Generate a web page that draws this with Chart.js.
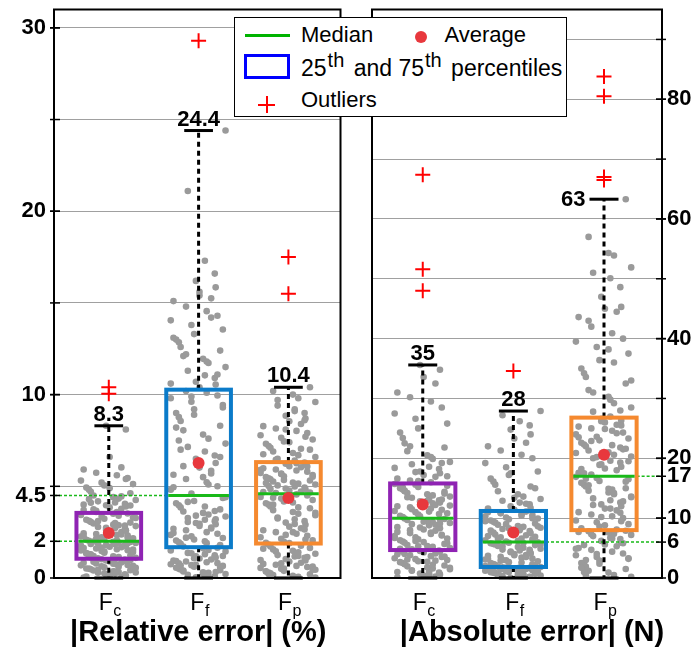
<!DOCTYPE html>
<html>
<head>
<meta charset="utf-8">
<title>Relative and absolute error box plots</title>
<script src="https://cdn.jsdelivr.net/npm/chart.js@4.4.1/dist/chart.umd.min.js"></script>
<style>
  html, body { margin: 0; padding: 0; background: #fff; }
  #wrap { position: relative; width: 694px; height: 653px; overflow: hidden;
          font-family: "Liberation Sans", Arial, sans-serif; }
  .panel { position: absolute; top: 0; }
  #relChart { left: 0; }
  #absChart { left: 344px; }
  #legend { position: absolute; left: 234px; top: 17px; width: 331px; height: 98px;
            border: 1.5px solid #000; background: #fff; z-index: 5; color: #000; font-size: 22px; }
  #legend .txt { position: absolute; line-height: 22px; white-space: nowrap; }
  #legend .row2 { font-size: 23px; }
  #legend sup { font-size: 20px; vertical-align: 9px; line-height: 0; margin-left: 1px; margin-right: 3px; }
  .lg-line { position: absolute; left: 9.5px; top: 15.5px; width: 45px; height: 3px; background: #00b300; }
  .lg-dot { position: absolute; left: 179.5px; top: 13px; width: 12px; height: 12px; border-radius: 50%; background: #e8383d; }
  .lg-box { position: absolute; left: 8.5px; top: 36px; width: 46px; height: 25px; box-sizing: border-box; border: 3px solid #0000ff; }
  .lg-plus { position: absolute; left: 23px; top: 78px; width: 17px; height: 17px; }
  .lg-plus::before { content: ""; position: absolute; left: 7.5px; top: 0; width: 2px; height: 17px; background: #ff0000; }
  .lg-plus::after { content: ""; position: absolute; left: 0; top: 7.5px; width: 17px; height: 2px; background: #ff0000; }
</style>
</head>
<body>
<div id="wrap">
  <canvas id="relChart" class="panel" width="350" height="653"></canvas>
  <canvas id="absChart" class="panel" width="350" height="653"></canvas>
  <div id="legend">
    <div class="lg-line"></div>
    <div class="txt" style="left:66px; top:6px;">Median</div>
    <div class="lg-dot"></div>
    <div class="txt" style="left:209.5px; top:6px;">Average</div>
    <div class="lg-box"></div>
    <div class="txt row2" style="left:66px; top:38.5px;">25<sup>th</sup> and 75<sup>th</sup> percentiles</div>
    <div class="lg-plus"></div>
    <div class="txt" style="left:66px; top:71px;">Outliers</div>
  </div>
</div>

<script>
// categories (subscript of F)
const CATEGORIES = ['c', 'f', 'p'];

// ---- |Relative error| (%) ----
const REL_FC = [0.03, 0.06, 0.11, 0.13, 0.19, 0.2, 0.24, 0.29, 0.3, 0.33, 0.37, 0.41, 0.42, 0.48, 0.51,
  0.52, 0.58, 0.61, 0.64, 0.69, 0.71, 0.74, 0.79, 0.83, 0.85, 0.9, 0.93, 0.96, 1.0, 1.04,
  1.07, 1.1, 1.14, 1.18, 1.2, 1.23, 1.29, 1.31, 1.36, 1.38, 1.42, 1.47, 1.5, 1.52, 1.57,
  1.61, 1.63, 1.68, 1.7, 1.74, 1.79, 1.81, 1.84, 1.88, 1.91, 1.93, 1.97, 1.99, 1.96, 1.86,
  2.03, 2.08, 2.12, 2.17, 2.22, 2.26, 2.31, 2.35, 2.4, 2.44, 2.5, 2.55, 2.58, 2.63, 2.69,
  2.72, 2.78, 2.83, 2.88, 2.91, 2.97, 3.02, 3.06, 3.12, 3.18, 3.23, 3.3, 3.36, 3.44, 3.52,
  3.6, 3.66, 3.71, 3.78, 3.85, 3.9, 3.97, 4.04, 4.12, 4.18, 4.25, 4.33, 4.41, 4.5, 4.62,
  4.7, 4.81, 4.93, 5.05, 5.12, 5.2, 5.31, 5.45, 5.6, 5.74, 5.92, 6.03, 6.6, 8.1, 8.3,
  0.15, 0.35, 0.45, 0.55, 0.62, 0.78, 0.88, 0.98, 1.12, 1.25, 1.33, 1.44, 1.55, 1.66, 1.77,
  1.9, 2.06, 2.15, 2.28, 2.37, 2.48, 2.6, 2.74, 2.86, 2.99, 3.1, 3.27, 3.4, 3.5, 3.75,
  3.95, 4.1, 4.3, 0.08, 0.26, 0.67, 1.02, 1.6, 2.2, 2.9, 3.6, 4.0, 4.45, 4.9, 5.4];
const REL_FF = [0.04, 0.09, 0.13, 0.17, 0.22, 0.28, 0.31, 0.36, 0.42, 0.47, 0.5, 0.56, 0.61, 0.66, 0.7,
  0.75, 0.81, 0.86, 0.9, 0.95, 1.01, 1.06, 1.12, 1.18, 1.24, 1.3, 1.37, 1.45, 1.53, 1.62,
  1.72, 1.8, 1.86, 1.95, 2.04, 2.1, 2.18, 2.27, 2.35, 2.41, 2.5, 2.6, 2.68, 2.75, 2.84,
  2.93, 3.0, 3.1, 3.18, 3.27, 3.35, 3.46, 3.55, 3.63, 3.74, 3.85, 3.97, 4.08, 4.2, 4.36,
  4.6, 4.81, 5.0, 5.22, 5.4, 5.63, 5.85, 6.02, 6.27, 6.5, 6.68, 6.9, 7.15, 7.33, 7.6,
  7.82, 8.05, 8.3, 8.56, 8.77, 9.0, 9.2, 9.43, 9.61, 9.8, 9.95, 10.1, 10.2, 4.95, 5.7,
  10.4, 10.55, 10.7, 10.9, 11.05, 11.3, 11.5, 11.72, 11.95, 12.1, 12.4, 12.6, 12.85, 13.0, 13.3,
  13.55, 13.8, 14.05, 14.3, 14.55, 14.8, 15.1, 15.25, 15.6, 15.85, 16.2, 16.6, 17.3, 21.1, 24.4,
  0.1, 0.25, 0.4, 0.55, 0.68, 0.8, 0.93, 1.08, 1.2, 1.35, 1.5, 1.65, 1.9, 2.2, 2.45,
  2.7, 2.95, 3.2, 3.4, 3.65, 3.9, 4.15, 4.4, 5.1, 5.5, 6.1, 6.6, 7.0, 7.5, 8.2,
  8.9, 9.3, 9.9, 10.6, 11.1, 11.8, 12.2, 13.1, 14.2, 15.4, 0.33, 0.72, 1.15, 2.0, 3.05];
const REL_FP = [0.03, 0.07, 0.12, 0.16, 0.2, 0.26, 0.3, 0.35, 0.39, 0.45, 0.5, 0.55, 0.6, 0.66, 0.72,
  0.77, 0.83, 0.9, 0.96, 1.03, 1.1, 1.17, 1.25, 1.32, 1.4, 1.48, 1.56, 1.64, 1.72, 1.82,
  1.92, 1.97, 2.05, 2.14, 2.22, 2.3, 2.41, 2.5, 2.6, 2.71, 2.8, 2.9, 3.02, 3.1, 3.2,
  3.3, 3.42, 3.5, 3.6, 3.7, 3.8, 3.9, 4.0, 4.08, 4.17, 4.25, 4.33, 4.42, 4.5, 4.56,
  4.63, 4.68, 4.72, 4.77, 4.83, 4.88, 4.93, 4.99, 5.05, 5.1, 5.15, 5.21, 5.26, 5.32, 5.38,
  5.44, 5.5, 5.55, 5.61, 5.67, 5.73, 5.8, 5.86, 5.92, 5.98, 6.04, 6.1, 6.17, 6.23, 6.3,
  6.4, 6.5, 6.6, 6.7, 6.82, 6.9, 7.0, 7.1, 7.2, 7.32, 7.45, 7.55, 7.65, 7.78, 7.9,
  8.02, 8.15, 8.28, 8.4, 8.55, 8.7, 8.85, 9.0, 9.2, 9.4, 9.6, 9.8, 10.0, 10.2, 10.4,
  0.09, 0.22, 0.37, 0.52, 0.63, 0.8, 0.98, 1.14, 1.3, 1.45, 1.6, 1.76, 1.9, 2.1, 2.35,
  2.65, 2.95, 3.25, 3.55, 3.85, 4.12, 4.38, 4.66, 4.85, 5.02, 5.18, 5.35, 5.52, 5.7, 5.9,
  6.08, 6.26, 6.45, 6.75, 7.05, 7.4, 7.7, 8.1, 8.6, 9.1, 9.7, 0.45, 1.2, 2.5, 4.0];
const REL_Q1 = [1.05, 1.68, 1.88];
const REL_MEDIAN = [2.0, 4.5, 4.6];
const REL_Q3 = [3.55, 10.27, 6.32];
const REL_WHISKER = [8.3, 24.4, 10.4];
const REL_WHISKER_TEXT = ['8.3', '24.4', '10.4'];
const REL_AVERAGE = [2.45, 6.27, 4.36];
const REL_OUTLIERS = [[10.4, 10.05], [29.3], [17.5, 15.5]];
const REL_TICKS = [0, 2, 4.5, 10, 20, 30];
const REL_TICK_LABELS = ['0', '2', '4.5', '10', '20', '30'];
const REL_GRID = [5, 10, 15, 20, 25, 30];

// ---- |Absolute error| (N) ----
const ABS_FC = [0.1, 0.25, 0.4, 0.6, 0.75, 0.9, 1.1, 1.3, 1.45, 1.6, 1.8, 1.95, 2.1, 2.3, 2.5,
  2.65, 2.8, 3.0, 3.15, 3.3, 3.5, 3.65, 3.8, 3.95, 4.1, 4.25, 4.4, 4.5, 4.6, 0.5,
  4.8, 5.0, 5.2, 5.35, 5.5, 5.7, 5.9, 6.1, 6.3, 6.45, 6.6, 6.8, 7.0, 7.2, 7.35,
  7.5, 7.7, 7.9, 8.1, 8.3, 8.45, 8.6, 8.8, 9.0, 9.2, 9.35, 9.5, 9.7, 9.85, 9.95,
  10.2, 10.4, 10.6, 10.8, 11.0, 11.2, 11.4, 11.6, 11.8, 12.0, 12.2, 12.4, 12.6, 12.8, 13.0,
  13.2, 13.4, 13.6, 13.8, 14.0, 14.2, 14.4, 14.6, 14.8, 15.0, 15.2, 15.4, 15.6, 15.7, 13.1,
  16.0, 16.3, 16.6, 16.9, 17.2, 17.5, 17.8, 18.2, 18.6, 19.0, 19.4, 19.9, 20.5, 21.2, 21.8,
  22.5, 23.4, 24.3, 25.0, 25.8, 26.6, 27.5, 28.5, 29.5, 30.2, 31.0, 32.5, 33.6, 34.8, 35.6,
  0.3, 0.7, 1.2, 1.7, 2.2, 2.7, 3.1, 3.6, 4.0, 4.4, 4.9, 5.3, 5.8, 6.2, 6.7,
  7.1, 7.6, 8.0, 8.5, 8.9, 9.4, 9.8, 10.3, 10.7, 11.1, 11.5, 12.1, 12.5, 12.9, 13.5,
  14.1, 14.5, 15.1, 15.5, 16.2, 17.0, 17.7, 18.4, 19.2, 20.2, 22.0, 1.0, 2.9, 6.0, 9.1];
const ABS_FF = [0.05, 0.15, 0.25, 0.32, 0.4, 0.5, 0.55, 0.65, 0.72, 0.8, 0.88, 0.95, 1.02, 1.1, 1.15,
  1.22, 1.28, 1.35, 1.4, 1.46, 1.52, 1.57, 1.62, 1.67, 1.71, 1.75, 1.79, 1.82, 0.6, 1.0,
  1.9, 2.05, 2.2, 2.35, 2.5, 2.65, 2.8, 2.95, 3.1, 3.25, 3.4, 3.55, 3.7, 3.85, 4.0,
  4.15, 4.3, 4.45, 4.6, 4.75, 4.9, 5.05, 5.2, 5.35, 5.5, 5.6, 5.7, 5.8, 5.9, 5.95,
  6.1, 6.3, 6.45, 6.6, 6.8, 7.0, 7.15, 7.3, 7.5, 7.7, 7.85, 8.0, 8.2, 8.4, 8.55,
  8.7, 8.9, 9.1, 9.25, 9.4, 9.6, 9.8, 9.95, 10.1, 10.3, 10.5, 10.65, 10.8, 11.0, 11.1,
  11.4, 11.7, 12.0, 12.3, 12.6, 12.9, 13.2, 13.6, 14.0, 14.5, 15.0, 15.6, 16.1, 16.6, 17.2,
  17.8, 18.5, 19.2, 20.0, 20.6, 21.3, 22.0, 22.6, 23.3, 24.0, 24.8, 25.5, 26.2, 27.2, 27.9,
  0.1, 0.3, 0.45, 0.7, 0.85, 1.05, 1.25, 1.45, 1.6, 1.75, 2.0, 2.3, 2.6, 2.9, 3.2,
  3.5, 3.8, 4.1, 4.4, 4.7, 5.0, 5.3, 5.55, 5.85, 6.2, 6.55, 6.9, 7.25, 7.6, 7.95,
  8.3, 8.65, 9.0, 9.5, 10.0, 10.4, 10.9, 11.6, 12.4, 13.4, 15.3, 17.5, 0.2, 0.9, 3.0];
const ABS_FP = [0.2, 0.5, 0.9, 1.2, 1.5, 1.9, 2.2, 2.5, 2.9, 3.2, 3.5, 3.8, 4.1, 4.4, 4.7,
  5.0, 5.3, 5.6, 5.9, 6.2, 6.5, 6.7, 7.0, 7.2, 7.4, 7.6, 7.8, 7.9, 3.0, 5.5,
  8.3, 8.6, 9.0, 9.3, 9.6, 10.0, 10.3, 10.6, 11.0, 11.3, 11.6, 12.0, 12.3, 12.6, 13.0,
  13.3, 13.6, 14.0, 14.3, 14.6, 15.0, 15.3, 15.6, 15.9, 16.2, 16.5, 16.7, 16.9, 12.8, 14.8,
  17.3, 17.6, 18.0, 18.3, 18.6, 19.0, 19.3, 19.6, 20.0, 20.3, 20.6, 21.0, 21.3, 21.6, 22.0,
  22.3, 22.6, 23.0, 23.3, 23.6, 24.0, 24.3, 24.6, 25.0, 25.3, 25.6, 26.0, 26.3, 26.6, 21.8,
  27.0, 27.8, 28.5, 29.2, 30.3, 31.4, 32.5, 33.6, 34.2, 35.0, 36.4, 37.5, 38.6, 39.5, 40.0,
  40.9, 42.0, 43.6, 44.5, 45.0, 45.3, 47.0, 48.6, 50.1, 51.0, 51.9, 53.9, 54.3, 57.0, 63.3,
  0.4, 1.0, 1.7, 2.4, 3.3, 4.0, 4.9, 5.8, 6.6, 7.3, 7.7, 8.1, 8.8, 9.5, 10.2,
  10.9, 11.6, 12.2, 13.5, 14.2, 14.9, 15.5, 16.1, 16.6, 17.5, 18.2, 18.9, 19.5, 20.2, 20.9,
  21.5, 22.2, 22.9, 23.5, 24.2, 24.9, 25.5, 26.2, 28.0, 29.8, 31.0, 33.0, 36.0, 38.2, 43.0];
const ABS_Q1 = [4.67, 1.84, 8.0];
const ABS_MEDIAN = [10, 6, 17];
const ABS_Q3 = [15.8, 11.2, 26.8];
const ABS_WHISKER = [35.6, 27.9, 63.3];
const ABS_WHISKER_TEXT = ['35', '28', '63'];
const ABS_AVERAGE = [12.3, 7.6, 20.6];
const ABS_OUTLIERS = [[67.4, 51.6, 48.0], [34.6], [83.8, 80.5, 67.0, 66.5]];
const ABS_TICKS = [0, 6, 10, 17, 20, 40, 60, 80];
const ABS_TICK_LABELS = ['0', '6', '10', '17', '20', '40', '60', '80'];
const ABS_GRID = [10, 20, 30, 40, 50, 60, 70, 80, 90];

// horizontal spread pattern for the sample dots (in category units)
const JITTER = [-0.28, 0.05, 0.21, -0.12, 0.27, -0.03, -0.22, 0.14, -0.17, 0.09, 0.3, -0.08,
  0.18, -0.25, 0.01, 0.24, -0.14, 0.11, -0.31, 0.07, -0.05, 0.19, -0.2];

const FONT = '"Liberation Sans", Arial, sans-serif';
const GREEN = '#19b919';
const BOX_HALF = 0.36;
const CAP_HALF = 0.16;

function samplePoints(lists) {
    const pts = [];
    lists.forEach((vals, k) => {
        vals.forEach((v, i) => {
            pts.push({ x: k + 1 + JITTER[(i * 7 + k * 5) % JITTER.length], y: v });
        });
    });
    return pts;
}

function catPoints(values) {
    return values.map((v, i) => ({ x: i + 1, y: v }));
}

function outlierPoints(groups) {
    const pts = [];
    groups.forEach((g, i) => g.forEach(v => pts.push({ x: i + 1, y: v })));
    return pts;
}

function line(ctx, x1, y1, x2, y2) {
    ctx.beginPath();
    ctx.moveTo(x1, y1);
    ctx.lineTo(x2, y2);
    ctx.stroke();
}

const boxPlugin = {
    id: 'boxes',
    afterDatasetDraw(chart, args, o) {
        if (args.index !== 2) return; // draw right after the grey samples
        const { ctx, chartArea: area } = chart;
        const x = chart.scales.x, y = chart.scales.y;
        ctx.save();
        o.q1.forEach((q1, i) => {
            const cx = x.getPixelForValue(i + 1);
            const bl = x.getPixelForValue(i + 1 - BOX_HALF);
            const br = x.getPixelForValue(i + 1 + BOX_HALF);
            const cl = x.getPixelForValue(i + 1 - CAP_HALF);
            const cr = x.getPixelForValue(i + 1 + CAP_HALF);
            const yQ1 = y.getPixelForValue(q1);
            const yQ3 = y.getPixelForValue(o.q3[i]);
            const yMed = y.getPixelForValue(o.median[i]);
            const yHi = y.getPixelForValue(o.whisker[i]);
            const y0 = y.getPixelForValue(0);

            // dotted whiskers
            ctx.strokeStyle = '#000';
            ctx.lineWidth = 3;
            ctx.setLineDash([5, 4]);
            line(ctx, cx, yQ3, cx, yHi);
            line(ctx, cx, yQ1, cx, y0);
            ctx.setLineDash([]);
            line(ctx, cl, yHi, cr, yHi);
            line(ctx, cl, y0, cr, y0);

            // median guide to the axis
            if (o.guides[i]) {
                ctx.strokeStyle = GREEN;
                ctx.lineWidth = 1.5;
                ctx.setLineDash([3, 2]);
                if (o.guides[i] === 'left') line(ctx, area.left, yMed, bl, yMed);
                else line(ctx, br, yMed, area.right, yMed);
                ctx.setLineDash([]);
            }

            // box
            ctx.strokeStyle = o.colors[i];
            ctx.lineWidth = 4;
            ctx.strokeRect(bl, yQ3, br - bl, yQ1 - yQ3);

            // median
            ctx.strokeStyle = GREEN;
            ctx.lineWidth = 3;
            line(ctx, bl + 2, yMed, br - 2, yMed);

            // whisker value
            ctx.fillStyle = '#000';
            ctx.font = 'bold 22px ' + FONT;
            if (o.textSide[i] === 'left') {
                ctx.textAlign = 'right';
                ctx.textBaseline = 'middle';
                ctx.fillText(o.whiskerText[i], cl - 4, yHi + 1);
            } else {
                ctx.textAlign = 'center';
                ctx.textBaseline = 'alphabetic';
                ctx.fillText(o.whiskerText[i], cx, yHi - 5);
            }
        });
        ctx.restore();
    },
    afterDraw(chart, args, o) {
        const { ctx, chartArea: area } = chart;
        const x = chart.scales.x, y = chart.scales.y;
        ctx.save();
        // tick marks on the value axis
        ctx.strokeStyle = '#000';
        ctx.lineWidth = 1.5;
        const ax = o.side === 'left' ? area.left : area.right;
        const dir = o.side === 'left' ? 1 : -1;
        o.grid.concat(o.ticks).forEach(v => {
            const py = y.getPixelForValue(v);
            line(ctx, ax - dir * 4, py, ax + dir * 6, py);
        });
        // frame
        ctx.lineWidth = 2;
        ctx.strokeRect(area.left, area.top, area.right - area.left, area.bottom - area.top);

        // category labels F with subscript
        ctx.fillStyle = '#000';
        ctx.textBaseline = 'alphabetic';
        ctx.textAlign = 'left';
        CATEGORIES.forEach((sub, i) => {
            const cx = x.getPixelForValue(i + 1);
            ctx.font = '23px ' + FONT;
            const wF = ctx.measureText('F').width;
            ctx.font = '16px ' + FONT;
            const wS = ctx.measureText(sub).width;
            const sx = cx - (wF + wS) / 2 + 1;
            ctx.font = '23px ' + FONT;
            ctx.fillText('F', sx, area.bottom + 32);
            ctx.font = '16px ' + FONT;
            ctx.fillText(sub, sx + wF + 0.5, area.bottom + 38);
        });

        // axis title
        ctx.font = 'bold 29px ' + FONT;
        ctx.textAlign = 'center';
        ctx.fillText(o.title, (area.left + area.right) / 2 + o.titleShift, area.bottom + 63);
        ctx.restore();
    }
};

function makePanel(id, p) {
    const allTicks = p.ticks.concat(p.grid.filter(v => !p.ticks.includes(v))).sort((a, b) => a - b);
    return new Chart(document.getElementById(id), {
        type: 'scatter',
        data: {
            datasets: [{
                label: 'Average',
                data: catPoints(p.average),
                pointStyle: 'circle',
                pointRadius: 6,
                backgroundColor: '#e8383d',
                borderWidth: 0
            }, {
                label: 'Outliers',
                data: outlierPoints(p.outliers),
                pointStyle: 'cross',
                pointRadius: 7.5,
                borderColor: '#ff0000',
                borderWidth: 2
            }, {
                label: 'Samples',
                data: samplePoints(p.samples),
                pointRadius: 3.3,
                backgroundColor: '#9a9a9a',
                borderWidth: 0
            }]
        },
        options: {
            responsive: false,
            animation: false,
            events: [],
            layout: { padding: p.padding },
            plugins: {
                legend: { display: false },
                tooltip: { enabled: false },
                boxes: {
                    q1: p.q1, q3: p.q3, median: p.median, whisker: p.whisker,
                    whiskerText: p.whiskerText, textSide: p.textSide,
                    colors: ['#8f23b3', '#0b7bc9', '#f5892f'], guides: p.guides,
                    ticks: p.ticks, grid: p.grid, side: p.side,
                    title: p.title, titleShift: p.titleShift
                }
            },
            scales: {
                x: { type: 'linear', min: p.xRange[0], max: p.xRange[1], display: false },
                y: {
                    type: 'linear',
                    position: p.side,
                    min: 0,
                    max: p.yMax,
                    afterFit: s => {
                        s.width = p.axisWidth;
                        s.paddingTop = 0;
                        s.paddingBottom = 0;
                    },
                    afterBuildTicks: s => { s.ticks = allTicks.map(v => ({ value: v })); },
                    ticks: {
                        autoSkip: false,
                        padding: p.side === 'left' ? 8 : 5,
                        color: '#000',
                        font: { family: FONT, size: 22, weight: 'bold' },
                        callback: v => {
                            const k = p.ticks.indexOf(v);
                            return k >= 0 ? p.tickLabels[k] : '';
                        }
                    },
                    grid: {
                        drawTicks: false,
                        lineWidth: 1,
                        color: c => (c.tick && p.grid.includes(c.tick.value)) ? '#a0a0a0' : 'rgba(0,0,0,0)'
                    },
                    border: { display: false }
                }
            }
        },
        plugins: [boxPlugin]
    });
}

makePanel('relChart', {
    samples: [REL_FC, REL_FF, REL_FP],
    q1: REL_Q1, median: REL_MEDIAN, q3: REL_Q3, whisker: REL_WHISKER,
    whiskerText: REL_WHISKER_TEXT, textSide: ['top', 'top', 'top'],
    average: REL_AVERAGE, outliers: REL_OUTLIERS,
    ticks: REL_TICKS, tickLabels: REL_TICK_LABELS, grid: REL_GRID,
    guides: ['left', 'left', null],
    yMax: 31, xRange: [0.39, 3.58], side: 'left', axisWidth: 54,
    padding: { top: 9, bottom: 75, left: 0, right: 4 },
    title: '|Relative error| (%)', titleShift: 1
});

makePanel('absChart', {
    samples: [ABS_FC, ABS_FF, ABS_FP],
    q1: ABS_Q1, median: ABS_MEDIAN, q3: ABS_Q3, whisker: ABS_WHISKER,
    whiskerText: ABS_WHISKER_TEXT, textSide: ['top', 'top', 'left'],
    average: ABS_AVERAGE, outliers: ABS_OUTLIERS,
    ticks: ABS_TICKS, tickLabels: ABS_TICK_LABELS, grid: ABS_GRID,
    guides: [null, 'right', 'right'],
    yMax: 95, xRange: [0.44, 3.64], side: 'right', axisWidth: 32,
    padding: { top: 9, bottom: 75, left: 28, right: 0 },
    title: '|Absolute error| (N)', titleShift: 15
});
</script>
</body>
</html>
